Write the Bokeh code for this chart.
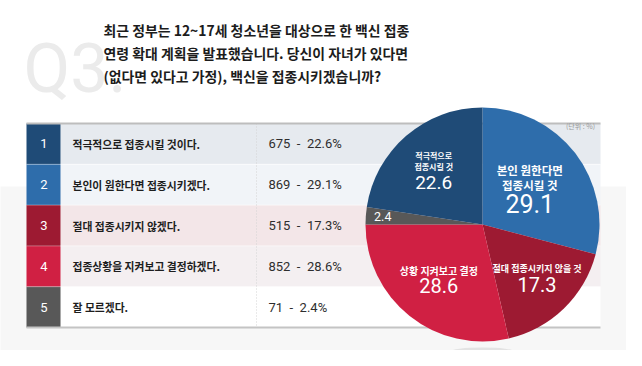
import math
from bokeh.plotting import figure
from bokeh.models import Range1d
from bokeh.core.properties import value
from bokeh.embed import file_html
from bokeh.resources import INLINE

# ---------------- data ----------------
numbers = ["1", "2", "3", "4", "5"]
answers = [
    "적극적으로 접종시킬 것이다.",
    "본인이 원한다면 접종시키겠다.",
    "절대 접종시키지 않겠다.",
    "접종상황을 지켜보고 결정하겠다.",
    "잘 모르겠다.",
]
counts = [675, 869, 515, 852, 71]
percents = [22.6, 29.1, 17.3, 28.6, 2.4]
pie_order = [1, 2, 3, 4, 0]          # clockwise from 12 o'clock
pie_captions = [
    ["적극적으로", "접종시킬 것"],
    ["본인 원한다면", "접종시킬 것"],
    ["절대 접종시키지 않을 것"],
    ["상황 지켜보고 결정"],
    [],
]
title_q = "Q3."
title_lines = [
    "최근 정부는 12~17세 청소년을 대상으로 한 백신 접종",
    "연령 확대 계획을 발표했습니다. 당신이 자녀가 있다면",
    "(없다면 있다고 가정), 백신을 접종시키겠습니까?",
]
unit_note = "(단위 : %)"

# ---------------- style ----------------
cell_colors = ["#1f4b77", "#2e6dab", "#9d1a32", "#d02043", "#585858"]
row_colors = ["#e6eaef", "#f1f4f8", "#f3e6e8", "#f4eff1", "#ffffff"]
KR = "Noto Sans CJK KR"
NUM = "Roboto"

H = 366
def Y(v):
    return H - v

p = figure(width=626, height=350, output_backend="svg", toolbar_location=None,
           x_range=Range1d(0, 626), y_range=Range1d(Y(350), Y(0)),
           x_axis_type=None, y_axis_type=None, min_border=0)
p.grid.visible = False
p.outline_line_color = None
p.background_fill_color = "#ffffff"
p.border_fill_color = "#ffffff"

# background panel
p.quad(left=[-5], right=[632], top=[Y(186)], bottom=[Y(370)],
       fill_color="#f7f7f7", line_color=None)

# title
p.text(x=[23], y=[Y(68)], text=[title_q], text_font=value("Roboto"),
       text_font_size="68px", text_color="#ebebeb", text_baseline="alphabetic")
p.text(x=[103] * 3, y=[Y(29), Y(52), Y(75)], text=title_lines,
       text_font=value(KR), text_font_size="13.9px", text_font_style="bold",
       text_color="#1c1c1c", text_baseline="middle")

# table
row_top0, row_h = 123, 40.8
tops = [Y(row_top0 + i * row_h) for i in range(5)]
bots = [Y(row_top0 + (i + 1) * row_h) for i in range(5)]
mids = [Y(row_top0 + (i + 0.5) * row_h) for i in range(5)]
p.quad(left=[60] * 5, right=[600] * 5, top=tops, bottom=bots,
       fill_color=row_colors, line_color=None)
p.quad(left=[26] * 5, right=[60] * 5, top=tops, bottom=bots,
       fill_color=cell_colors, line_color=None)
p.segment(x0=[26] * 4, x1=[60] * 4, y0=bots[:4], y1=bots[:4],
          line_color="#ffffff", line_alpha=0.35, line_width=1)
p.segment(x0=[60] * 4, x1=[600] * 4, y0=bots[:4], y1=bots[:4],
          line_color="#ffffff", line_alpha=0.6, line_width=1)
p.segment(x0=[256], x1=[256], y0=[tops[0]], y1=[bots[-1]],
          line_color="#d4d4d4", line_dash="1 2", line_width=1)
p.segment(x0=[26], x1=[600], y0=[tops[0]], y1=[tops[0]],
          line_color="#bdbdbd", line_width=2)
p.segment(x0=[26], x1=[600], y0=[bots[-1]], y1=[bots[-1]],
          line_color="#c4c4c4", line_width=2)

p.text(x=[43.5] * 5, y=mids, text=numbers, text_font=value("Roboto"),
       text_font_size="13px", text_color="#ffffff", text_align="center",
       text_baseline="middle")
p.text(x=[72] * 5, y=mids, text=answers, text_font=value(KR),
       text_font_size="10.8px", text_font_style="bold", text_color="#1e1e1e",
       text_baseline="middle")
SP = " \u00a0"
vals = [f"{c}{SP}-{SP}{v:.1f}%" for c, v in zip(counts, percents)]
p.text(x=[268] * 5, y=mids, text=vals, text_font=value("Roboto"),
       text_font_size="13px", text_color="#2e2e2e", text_baseline="middle")

# pie
cx, cy, R = 482, Y(224), 117
p.ellipse(x=[482], y=[Y(351)], width=[64], height=[8],
          fill_color="#e3e3e3", line_color=None)

total = sum(percents)
starts, ends, cols, mids_ang, idxs = [], [], [], [], []
cum = 0.0
for i in pie_order:
    f0 = cum / total
    cum += percents[i]
    f1 = cum / total
    starts.append(math.pi / 2 - 2 * math.pi * f1)
    ends.append(math.pi / 2 - 2 * math.pi * f0)
    mids_ang.append(math.pi / 2 - math.pi * (f0 + f1))
    cols.append(cell_colors[i])
    idxs.append(i)
p.wedge(x=cx, y=cy, radius=R, start_angle=starts, end_angle=ends,
        fill_color=cols, line_color=None, direction="anticlock")

# pie labels (anchor on the slice's mid angle)
lab_r = {0: 0.64, 1: 0.51, 2: 0.67, 3: 0.60, 4: 0.855}
cap_size = {0: "8px", 1: "11.5px", 2: "9px", 3: "10px", 4: "8px"}
val_size = {0: "19px", 1: "25px", 2: "20px", 3: "20px", 4: "12.5px"}
cap_off = {0: [-12, -1], 1: [-18, -3], 2: [-12], 3: [-9], 4: []}
val_off = {0: 15, 1: 15, 2: 4, 3: 6, 4: 0}
for ang, i in zip(mids_ang, idxs):
    ax = cx + lab_r[i] * R * math.cos(ang)
    ay = cy + lab_r[i] * R * math.sin(ang)
    caps = pie_captions[i]
    if caps:
        p.text(x=[ax] * len(caps), y=[ay - o for o in cap_off[i]], text=caps,
               text_font=value(KR), text_font_size=cap_size[i],
               text_font_style="bold", text_color="#ffffff",
               text_align="center", text_baseline="middle")
    p.text(x=[ax], y=[ay - val_off[i]], text=[f"{percents[i]:.1f}"],
           text_font=value(NUM), text_font_size=val_size[i],
           text_color="#ffffff", text_align="center", text_baseline="middle")

p.text(x=[580], y=[Y(125)], text=[unit_note], text_font=value(KR),
       text_font_size="7px", text_color="#9a9a9a", text_align="center",
       text_baseline="middle")

open("out.html", "w").write(file_html(p, INLINE))
